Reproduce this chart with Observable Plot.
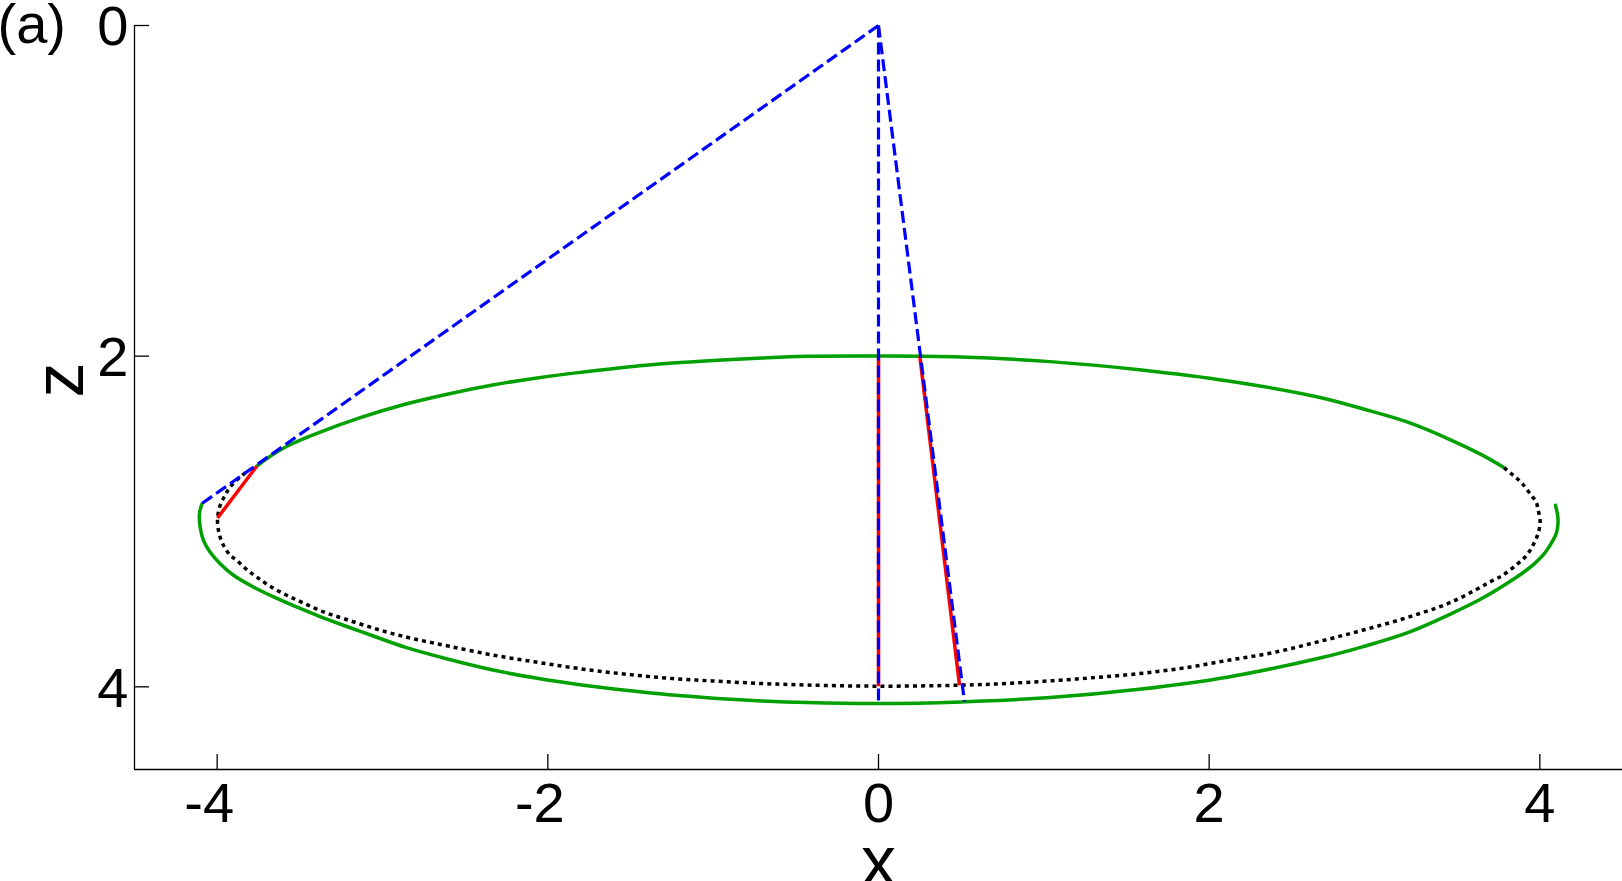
<!DOCTYPE html>
<html>
<head>
<meta charset="utf-8">
<script src="https://cdn.jsdelivr.net/npm/d3@7"></script>
<script src="https://cdn.jsdelivr.net/npm/@observablehq/plot@0.6"></script>
<style>
html, body { margin: 0; padding: 0; background: #fff; }
#chart svg { display: block; }
</style>
</head>
<body>
<div id="chart"></div>
<script>
// ---- data (x, z) ----
const xTicks = [-4, -2, 0, 2, 4];
const zTicks = [0, 2, 4];
const panelLabel = "(a)";
const xLabel = "x";
const zLabel = "z";

const greenUpper = [
  [-3.761, 2.666], [-3.671, 2.600], [-3.566, 2.539], [-3.404, 2.470], [-3.134, 2.372],
  [-2.864, 2.291], [-2.595, 2.227], [-2.325, 2.173], [-2.055, 2.130], [-1.785, 2.096],
  [-1.515, 2.066], [-1.245, 2.042], [-0.975, 2.025], [-0.705, 2.011], [-0.435, 2.001],
  [0, 1.999], [0.498, 2.005], [1.037, 2.033], [1.577, 2.082], [2.117, 2.150],
  [2.657, 2.247], [2.927, 2.318], [3.197, 2.398], [3.466, 2.509], [3.655, 2.600],
  [3.777, 2.670]
];

const greenLower = [
  [-4.093, 2.896], [-4.107, 2.952], [-4.103, 3.033], [-4.083, 3.114], [-4.043, 3.184],
  [-3.982, 3.255], [-3.901, 3.325], [-3.781, 3.396], [-3.659, 3.456], [-3.519, 3.517],
  [-3.378, 3.575], [-3.216, 3.635], [-3.035, 3.700], [-2.864, 3.760], [-2.595, 3.835],
  [-2.325, 3.900], [-2.055, 3.950], [-1.785, 3.990], [-1.515, 4.022], [-1.245, 4.050],
  [-0.975, 4.070], [-0.705, 4.085], [-0.435, 4.095], [0, 4.101],
  [0.498, 4.091], [1.037, 4.065], [1.577, 4.015], [2.117, 3.940], [2.657, 3.829],
  [2.927, 3.758], [3.197, 3.674], [3.466, 3.557], [3.660, 3.460], [3.847, 3.345],
  [3.918, 3.295], [3.968, 3.255], [4.019, 3.204], [4.053, 3.158], [4.079, 3.114],
  [4.099, 3.073], [4.109, 3.023], [4.109, 2.973], [4.095, 2.902]
];

const blackDotted = [
  [3.783, 2.674], [3.823, 2.707], [3.857, 2.735], [3.894, 2.771], [3.948, 2.842],
  [3.978, 2.882], [3.988, 2.922], [3.998, 2.969], [4.002, 3.013], [3.992, 3.063],
  [3.978, 3.104], [3.958, 3.144], [3.938, 3.180], [3.908, 3.218], [3.867, 3.255],
  [3.817, 3.295], [3.767, 3.331], [3.726, 3.351], [3.466, 3.487], [3.197, 3.581],
  [2.927, 3.658], [2.657, 3.728], [2.387, 3.793], [2.117, 3.839], [1.847, 3.886],
  [1.577, 3.920], [1.307, 3.944], [1.037, 3.964], [0.767, 3.980], [0.498, 3.990],
  [0, 3.996], [-0.435, 3.989], [-0.705, 3.980], [-0.975, 3.966], [-1.245, 3.950],
  [-1.515, 3.925], [-1.785, 3.893], [-2.055, 3.853], [-2.325, 3.809], [-2.595, 3.755],
  [-2.800, 3.712], [-2.955, 3.674], [-3.096, 3.632], [-3.236, 3.587], [-3.357, 3.547],
  [-3.478, 3.493], [-3.579, 3.446], [-3.680, 3.392], [-3.760, 3.336], [-3.821, 3.291],
  [-3.881, 3.235], [-3.921, 3.204], [-3.962, 3.144], [-3.988, 3.073], [-3.998, 2.989],
  [-3.982, 2.902], [-3.952, 2.842], [-3.921, 2.791], [-3.861, 2.731], [-3.811, 2.690]
];

// segments: [x1, z1, x2, z2]
const redSegments = [
  [-3.998, 2.979, -3.761, 2.666],
  [0, 2.0, 0, 3.996],
  [0.25, 2.0, 0.49, 3.99]
];

const blueSegments = [
  [0, 0, -4.093, 2.892],
  [0, 0, 0, 4.101],
  [0, 0, 0.52, 4.09]
];

// ---- layout ----
const W = 1622, H = 881;
const mL = 134, mR = 0, mT = 25, mB = 112;
const frameW = W - mL - mR, frameH = H - mT - mB;
const tickLen = 15;
const font = "'Liberation Sans', Arial, Helvetica, sans-serif";

const chart = Plot.plot({
  width: W,
  height: H,
  marginLeft: mL,
  marginRight: mR,
  marginTop: mT,
  marginBottom: mB,
  x: {domain: [-4.5, 4.5], axis: null},
  y: {domain: [0, 4.5], reverse: true, axis: null},
  style: {fontFamily: font, background: "#fff", overflow: "visible"},
  marks: [
    // axes lines
    Plot.ruleY([4.5], {stroke: "#000", strokeWidth: 1.3}),
    Plot.ruleX([-4.5], {stroke: "#000", strokeWidth: 1.3}),
    // inward ticks
    Plot.ruleX(xTicks, {x: d => d, insetTop: frameH - tickLen, stroke: "#000", strokeWidth: 1.3}),
    Plot.ruleY(zTicks, {y: d => d, insetRight: frameW - tickLen, stroke: "#000", strokeWidth: 1.3}),
    // tick labels
    Plot.text(xTicks.filter(d => d >= 0), {x: d => d, frameAnchor: "bottom", lineAnchor: "middle", dy: 35, text: d => String(d), fontSize: 56, fill: "#000"}),
    Plot.text(xTicks.filter(d => d < 0), {x: d => d, frameAnchor: "bottom", lineAnchor: "middle", dx: -8, dy: 35, text: d => String(d), fontSize: 56, fill: "#000"}),
    Plot.text(zTicks, {y: d => d, frameAnchor: "left", lineAnchor: "middle", textAnchor: "end", dx: -6, dy: 2, text: d => String(d), fontSize: 56, fill: "#000"}),
    // axis labels
    Plot.text([xLabel], {frameAnchor: "bottom", lineAnchor: "middle", dy: 93, text: d => d, fontSize: 70, fill: "#000"}),
    Plot.text([zLabel], {frameAnchor: "left", lineAnchor: "middle", dx: -74, rotate: -90, text: d => d, fontSize: 70, fill: "#000"}),
    Plot.text([panelLabel], {frameAnchor: "top-left", lineAnchor: "middle", textAnchor: "start", dx: -137, dy: 0, text: d => d, fontSize: 56, fill: "#000"}),
    // curves
    Plot.line(greenUpper, {x: d => d[0], y: d => d[1], curve: "catmull-rom", stroke: "#00a000", strokeWidth: 3.5}),
    Plot.line(greenLower, {x: d => d[0], y: d => d[1], curve: "catmull-rom", stroke: "#00a000", strokeWidth: 3.5}),
    Plot.line(blackDotted, {x: d => d[0], y: d => d[1], curve: "catmull-rom", stroke: "#000", strokeWidth: 3.5, strokeDasharray: "4,4.1", strokeLinecap: "butt"}),
    Plot.link(redSegments, {x1: d => d[0], y1: d => d[1], x2: d => d[2], y2: d => d[3], stroke: "#ff0000", strokeWidth: 3.5}),
    Plot.link(blueSegments, {x1: d => d[0], y1: d => d[1], x2: d => d[2], y2: d => d[3], stroke: "#0000ff", strokeWidth: 3.2, strokeDasharray: "12,5"})
  ]
});

document.getElementById("chart").appendChild(chart);
</script>
</body>
</html>
